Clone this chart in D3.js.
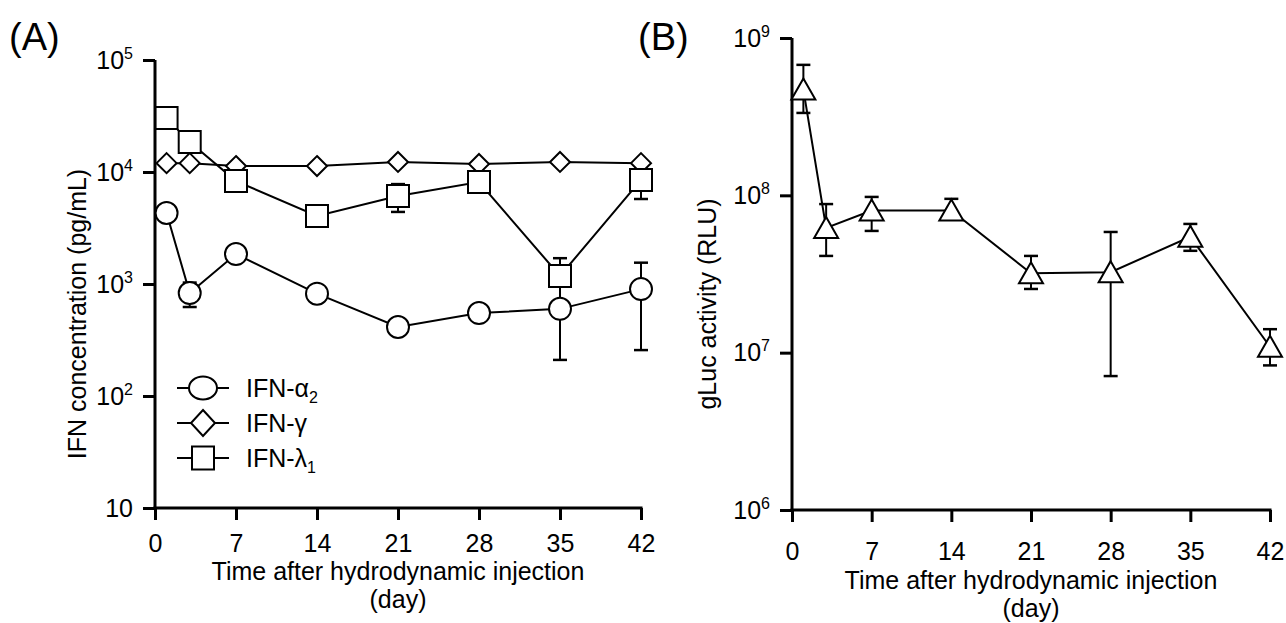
<!DOCTYPE html>
<html>
<head>
<meta charset="utf-8">
<script src="https://cdn.jsdelivr.net/npm/d3@7"></script>
<style>
  html, body { margin: 0; padding: 0; background: #fff; }
  svg { display: block; font-family: "Liberation Sans", Arial, sans-serif; }
  .axis path, .axis line { stroke: #000; stroke-width: 3px; }
  .axis text { font-size: 25px; fill: #000; }
</style>
</head>
<body>
<svg id="chart" width="1286" height="623"></svg>
<script>
// --- Data ---
const days = [1, 3, 7, 14, 21, 28, 35, 42];
const xTicks = [0, 7, 14, 21, 28, 35, 42];

// panel A, IFN concentration (pg/mL)
const ifnAlpha2 = [4300, 830, 1850, 820, 413, 550, 600, 900];
const ifnAlpha2Lo = [null, 623, null, null, null, null, 210, 257];
const ifnAlpha2Hi = [null, 1030, null, null, null, null, 990, 1550];
const ifnGamma = [12000, 12000, 11300, 11300, 12300, 11800, 12300, 12000];
const ifnLambda1 = [30300, 18500, 8300, 4050, 6100, 8130, 1180, 8500];
const ifnLambda1Lo = [null, null, null, null, 4400, null, 660, 5740];
const ifnLambda1Hi = [null, null, null, null, 7800, null, 1700, 11260];
const yTicksA = [10, 100, 1000, 10000, 100000];

// panel B, gLuc activity (RLU)
const gLuc = [4.7e8, 6.2e7, 8.0e7, 8.0e7, 3.2e7, 3.25e7, 5.45e7, 1.09e7];
const gLucLo = [3.34e8, 4.12e7, 5.94e7, null, 2.54e7, 7.1e6, 4.44e7, 8.3e6];
const gLucHi = [6.75e8, 8.8e7, 9.77e7, 9.5e7, 4.12e7, 5.85e7, 6.58e7, 1.41e7];
const yTicksB = [1e6, 1e7, 1e8, 1e9];

const svg = d3.select("#chart");

// --- marker shapes ---
function markerPath(shape, x, y) {
    if (shape === "diamond") return `M${x},${y - 10} L${x + 10},${y} L${x},${y + 10} L${x - 10},${y} Z`;
    if (shape === "square") return `M${x - 11},${y - 11} h22 v22 h-22 Z`;
    if (shape === "triangle") return `M${x},${y - 11} L${x + 12},${y + 10} L${x - 12},${y + 10} Z`;
    return null;
}

function drawMarker(g, shape, x, y) {
    if (shape === "circle") {
        g.append("circle").attr("cx", x).attr("cy", y).attr("r", 11)
            .attr("fill", "#fff").attr("stroke", "#000").attr("stroke-width", 2);
    } else {
        g.append("path").attr("d", markerPath(shape, x, y))
            .attr("fill", "#fff").attr("stroke", "#000").attr("stroke-width", 2).attr("stroke-linejoin", "miter");
    }
}

function powLabel(sel) {
    sel.each(function(d) {
        const t = d3.select(this).text("");
        const e = Math.round(Math.log10(d));
        t.append("tspan").text("10");
        if (e !== 1) t.append("tspan").attr("font-size", "16px").attr("dy", -10).text(e);
    });
}

function drawPanel(p) {
    const x = d3.scaleLinear().domain([0, 42]).range([p.x0, p.x1]);
    const y = d3.scaleLog().domain(p.yDomain).range([p.y1, p.y0]);
    const g = svg.append("g");

    const xAxis = g.append("g").attr("class", "axis").attr("transform", `translate(0,${p.y1})`)
        .call(d3.axisBottom(x).tickValues(xTicks).tickSizeOuter(0).tickSize(12).tickPadding(p.xPad));
    const yAxis = g.append("g").attr("class", "axis").attr("transform", `translate(${p.x0},0)`)
        .call(d3.axisLeft(y).tickValues(p.yTicks).tickSizeOuter(0).tickSize(12).tickPadding(10));
    yAxis.selectAll(".tick text").call(powLabel);
    // square off the corner where the two axes meet
    yAxis.select(".domain").attr("d", `M0,${p.y0}V${p.y1 + 1.5}`);
    xAxis.select(".domain").attr("d", `M${p.x0 - 1.5},0H${p.x1 + 1.5}`);

    // axis titles
    g.append("text").attr("transform", `translate(${p.yTitleX},${(p.y0 + p.y1) / 2 + 30}) rotate(-90)`)
        .attr("text-anchor", "middle").attr("font-size", 25).text(p.yTitle);
    const cx = (p.x0 + p.x1) / 2;
    g.append("text").attr("x", cx).attr("y", p.xTitleY).attr("text-anchor", "middle").attr("font-size", 25)
        .text("Time after hydrodynamic injection");
    g.append("text").attr("x", cx).attr("y", p.xTitleY + 28).attr("text-anchor", "middle").attr("font-size", 25)
        .text("(day)");
    g.append("text").attr("x", p.labelX).attr("y", 50).attr("font-size", 38).text(p.label);

    const line = d3.line().x(d => x(d[0])).y(d => y(d[1]));
    p.series.forEach(s => {
        g.append("path").datum(days.map((d, i) => [d, s.values[i]]))
            .attr("d", line).attr("fill", "none").attr("stroke", "#000").attr("stroke-width", 2);
    });
    p.series.forEach(s => {
        days.forEach((d, i) => {
            const xx = x(d);
            [s.lo, s.hi].forEach(arr => {
                if (!arr || arr[i] == null) return;
                g.append("line").attr("x1", xx).attr("x2", xx).attr("y1", y(s.values[i])).attr("y2", y(arr[i]))
                    .attr("stroke", "#000").attr("stroke-width", 2);
                g.append("line").attr("x1", xx - 7).attr("x2", xx + 7).attr("y1", y(arr[i])).attr("y2", y(arr[i]))
                    .attr("stroke", "#000").attr("stroke-width", 2.5);
            });
        });
    });
    p.series.forEach(s => {
        days.forEach((d, i) => drawMarker(g, s.shape, x(d), y(s.values[i])));
    });
}

drawPanel({
    x0: 155, x1: 641, y0: 60, y1: 508, yDomain: [10, 1e5], yTicks: yTicksA,
    xPad: 14, xTitleY: 580, yTitleX: 86, yTitle: "IFN concentration (pg/mL)",
    label: "(A)", labelX: 9,
    series: [
        { shape: "circle", values: ifnAlpha2, lo: ifnAlpha2Lo, hi: ifnAlpha2Hi },
        { shape: "diamond", values: ifnGamma },
        { shape: "square", values: ifnLambda1, lo: ifnLambda1Lo, hi: ifnLambda1Hi }
    ]
});

drawPanel({
    x0: 792, x1: 1270, y0: 38, y1: 510, yDomain: [1e6, 1e9], yTicks: yTicksB,
    xPad: 20, xTitleY: 589, yTitleX: 716, yTitle: "gLuc activity (RLU)",
    label: "(B)", labelX: 638,
    series: [
        { shape: "triangle", values: gLuc, lo: gLucLo, hi: gLucHi }
    ]
});

// --- legend (panel A) ---
const legendItems = [
    { shape: "circle", name: "IFN-\u03b1", sub: "2" },
    { shape: "diamond", name: "IFN-\u03b3", sub: null },
    { shape: "square", name: "IFN-\u03bb", sub: "1" }
];
const legend = svg.append("g");
legendItems.forEach((item, i) => {
    const ly = 388 + i * 35, lx = 203;
    legend.append("line").attr("x1", 177).attr("x2", 229).attr("y1", ly).attr("y2", ly)
        .attr("stroke", "#000").attr("stroke-width", 2);
    if (item.shape === "circle") {
        legend.append("ellipse").attr("cx", lx).attr("cy", ly).attr("rx", 14).attr("ry", 11.5)
            .attr("fill", "#fff").attr("stroke", "#000").attr("stroke-width", 2);
    } else if (item.shape === "diamond") {
        legend.append("path").attr("d", `M${lx},${ly - 13} L${lx + 12},${ly} L${lx},${ly + 13} L${lx - 12},${ly} Z`)
            .attr("fill", "#fff").attr("stroke", "#000").attr("stroke-width", 2);
    } else {
        legend.append("path").attr("d", `M${lx - 11},${ly - 11.5} h22 v23 h-22 Z`)
            .attr("fill", "#fff").attr("stroke", "#000").attr("stroke-width", 2);
    }
    const t = legend.append("text").attr("x", 246).attr("y", ly + 9).attr("font-size", 25);
    t.append("tspan").text(item.name);
    if (item.sub) t.append("tspan").attr("font-size", "16px").attr("dy", 6).text(item.sub);
});
</script>
</body>
</html>
